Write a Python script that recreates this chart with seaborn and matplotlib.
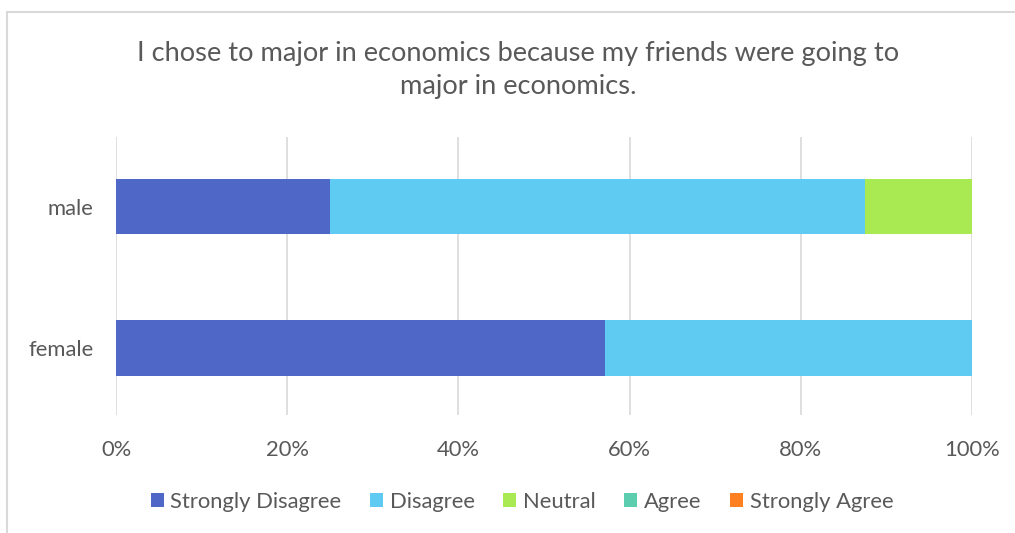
import matplotlib
matplotlib.use("Agg")
import matplotlib.pyplot as plt
from matplotlib.lines import Line2D
from matplotlib.patches import Patch
import seaborn as sns
import pandas as pd
import numpy as np

# Survey responses by gender (share of respondents, %)
genders = ["male", "female"]
responses = ["Strongly Disagree", "Disagree", "Neutral", "Agree", "Strongly Agree"]
strongly_disagree = [25.0, 57.14]
disagree = [62.5, 42.86]
neutral = [12.5, 0.0]
agree = [0.0, 0.0]
strongly_agree = [0.0, 0.0]
colors = ["#4F67C6", "#5FCBF3", "#A9EA52", "#5CCDAE", "#FF8021"]
tick_labels = ["0%", "20%", "40%", "60%", "80%", "100%"]
title = "I chose to major in economics because my friends were going to\nmajor in economics."

sns.set_theme(style="white")
plt.rcParams["font.family"] = ["Lato", "DejaVu Sans"]
text_color = "#595959"

fig = plt.figure(figsize=(10.15, 5.33), dpi=100)
W, H = 1015, 533
ax = fig.add_axes([116 / W, 1 - 415 / H, (972 - 116) / W, (415 - 137) / H])

series = [strongly_disagree, disagree, neutral, agree, strongly_agree]
values = np.array(series)
cumulative = np.cumsum(values, axis=0)

# Stacked bars: draw cumulative totals from the last segment back to the first
for i in range(len(responses) - 1, -1, -1):
    df = pd.DataFrame({"gender": genders, "value": cumulative[i]})
    sns.barplot(data=df, x="value", y="gender", order=genders, color=colors[i],
                orient="h", width=0.39, ax=ax, saturation=1, linewidth=0)

ax.set_xlim(0, 100)
ax.set_ylim(1.475, -0.496)
ax.set_xticks(np.arange(0, 101, 20))
ax.set_xticklabels(tick_labels)
ax.grid(axis="x", color="#D9D9D9", linewidth=1.2)
ax.set_axisbelow(True)
for s in ax.spines.values():
    s.set_visible(False)
ax.set_xlabel("")
ax.set_ylabel("")
ax.tick_params(axis="both", length=0, labelsize=15.8, colors=text_color)
ax.tick_params(axis="x", pad=18)
ax.tick_params(axis="y", pad=16)

fig.text(518 / W, 1 - 70 / H, title, ha="center", va="center",
         fontsize=19.6, color=text_color, linespacing=1.42)

handles = [Patch(facecolor=c, edgecolor="none") for c in colors]
fig.legend(handles, responses, loc="center", bbox_to_anchor=(522 / W, 1 - 502 / H),
           ncol=5, frameon=False, fontsize=15.8, labelcolor=text_color,
           handlelength=0.6, handleheight=0.6, handletextpad=0.3, columnspacing=1.3)

# Chart-area border
fig.add_artist(Line2D([7 / W, 7 / W], [0, 1 - 12 / H], transform=fig.transFigure,
                      color="#D9D9D9", linewidth=1.5))
fig.add_artist(Line2D([7 / W, 1], [1 - 12 / H, 1 - 12 / H], transform=fig.transFigure,
                      color="#D9D9D9", linewidth=1.5))

fig.savefig("out.png", dpi=100, facecolor="white")
